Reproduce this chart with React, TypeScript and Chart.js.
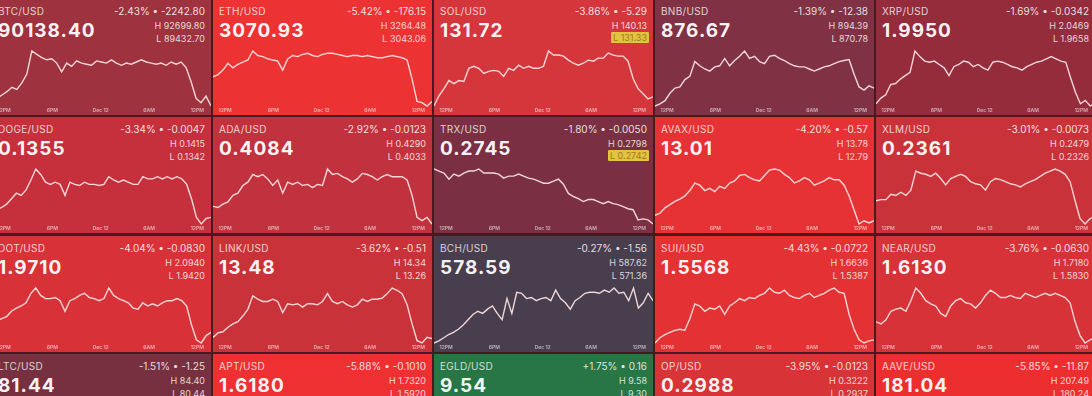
import React, { useEffect, useRef } from 'react';
import { Chart, registerables } from 'chart.js';

Chart.register(...registerables);

// ---- tile texts (row by row, 5 columns) ----
const symbols = [
  'BTC/USD', 'ETH/USD', 'SOL/USD', 'BNB/USD', 'XRP/USD',
  'DOGE/USD', 'ADA/USD', 'TRX/USD', 'AVAX/USD', 'XLM/USD',
  'DOT/USD', 'LINK/USD', 'BCH/USD', 'SUI/USD', 'NEAR/USD',
  'LTC/USD', 'APT/USD', 'EGLD/USD', 'OP/USD', 'AAVE/USD',
];
const prices = [
  '90138.40', '3070.93', '131.72', '876.67', '1.9950',
  '0.1355', '0.4084', '0.2745', '13.01', '0.2361',
  '1.9710', '13.48', '578.59', '1.5568', '1.6130',
  '81.44', '1.6180', '9.54', '0.2988', '181.04',
];
const changePct = [
  '-2.43%', '-5.42%', '-3.86%', '-1.39%', '-1.69%',
  '-3.34%', '-2.92%', '-1.80%', '-4.20%', '-3.01%',
  '-4.04%', '-3.62%', '-0.27%', '-4.43%', '-3.76%',
  '-1.51%', '-5.88%', '+1.75%', '-3.95%', '-5.85%',
];
const changeAbs = [
  '-2242.80', '-176.15', '-5.29', '-12.38', '-0.0342',
  '-0.0047', '-0.0123', '-0.0050', '-0.57', '-0.0073',
  '-0.0830', '-0.51', '-1.56', '-0.0722', '-0.0630',
  '-1.25', '-0.1010', '0.16', '-0.0123', '-11.87',
];
const highs = [
  '92699.80', '3264.48', '140.13', '894.39', '2.0469',
  '0.1415', '0.4290', '0.2798', '13.78', '0.2479',
  '2.0940', '14.34', '587.62', '1.6636', '1.7180',
  '84.40', '1.7320', '9.58', '0.3222', '207.49',
];
const lows = [
  '89432.70', '3043.06', '131.33', '870.78', '1.9658',
  '0.1342', '0.4033', '0.2742', '12.79', '0.2326',
  '1.9420', '13.26', '571.36', '1.5387', '1.5830',
  '80.44', '1.5920', '9.30', '0.2937', '180.24',
];
const lowHighlighted = ['SOL/USD', 'TRX/USD'];
const tileColors = [
  'rgb(158,50,62)', 'rgb(236,50,50)', 'rgb(212,54,60)', 'rgb(128,50,68)', 'rgb(148,44,60)',
  'rgb(198,48,60)', 'rgb(194,50,62)', 'rgb(122,48,66)', 'rgb(230,50,52)', 'rgb(202,50,58)',
  'rgb(216,50,56)', 'rgb(202,50,58)', 'rgb(72,62,78)', 'rgb(228,50,52)', 'rgb(214,50,56)',
  'rgb(118,48,64)', 'rgb(238,48,50)', 'rgb(40,118,70)', 'rgb(216,52,56)', 'rgb(236,46,46)',
];

// ---- sparkline series (intraday, relative level, left to right) ----
const btcLine = [10,12,15,18,22,20,26,34,55,52,49,47,48,44,36,44,41,46,44,43,42,46,45,44,47,44,42,44,43,45,47,45,44,43,44,42,45,43,45,40,27,12,8,14,5];
const ethLine = [34,36,40,46,42,45,47,49,57,53,52,50,49,48,40,50,53,52,54,55,53,52,54,55,55,54,53,52,53,53,52,53,52,51,51,52,53,52,51,49,32,12,11,8,12];
const solLine = [3,13,20,28,25,28,27,40,42,40,35,37,38,37,32,40,38,43,40,42,40,40,42,57,53,53,52,48,45,43,45,48,47,50,50,55,53,52,52,47,30,20,15,10,12];
const bnbLine = [5,7,10,17,22,23,30,33,47,43,40,38,42,43,50,43,48,52,57,50,52,47,45,52,53,50,48,45,43,42,42,40,38,40,42,43,45,47,48,49,35,23,20,24,22];
const xrpLine = [10,15,18,27,28,32,35,38,57,52,48,47,48,45,42,35,43,45,48,47,43,45,42,40,47,48,47,45,43,42,40,43,45,47,48,50,52,50,48,47,33,20,10,13,8,10];
const dogeLine = [18,20,22,25,30,35,33,38,47,57,52,45,43,45,43,33,45,43,42,45,43,43,42,43,50,47,45,47,45,43,43,50,48,48,50,48,50,48,50,48,43,30,13,7,12,13];
const adaLine = [23,22,25,27,33,35,42,45,52,50,52,48,42,47,35,45,43,45,42,43,40,43,42,57,52,53,50,48,45,48,53,52,50,47,50,52,50,50,50,47,33,13,10,13,7];
const trxLine = [57,55,53,47,52,50,53,55,55,57,53,53,53,52,48,50,50,52,50,48,47,45,43,43,45,47,42,33,30,28,25,27,27,25,23,25,23,22,20,18,17,7,8,7,3];
const avaxLine = [15,17,22,25,28,30,33,38,45,43,38,40,37,42,40,45,47,52,53,50,48,47,52,57,58,57,53,50,45,47,50,48,43,45,47,50,48,48,43,33,20,7,10,8,10];
const xlmLine = [27,28,28,33,32,35,32,37,55,53,52,50,53,48,42,48,50,52,50,45,43,42,37,45,48,47,45,43,42,40,43,45,47,50,53,55,57,55,52,45,27,10,5,10,12];
const dotLine = [24,26,28,30,35,38,40,43,52,57,50,47,47,48,45,35,45,47,50,52,48,47,45,47,57,50,47,45,43,38,37,43,40,42,40,43,45,45,47,45,40,22,8,5,12,15];
const linkLine = [13,17,18,22,25,27,32,38,50,47,45,45,47,45,35,43,42,43,40,43,43,42,45,52,45,43,45,42,40,42,47,45,47,47,48,52,57,55,52,42,25,10,8,13,12];
const bchLine = [5,7,10,13,15,18,22,27,32,35,33,37,40,33,27,47,33,53,52,47,48,45,47,48,45,55,47,43,37,45,48,52,53,53,52,55,53,57,52,53,45,57,38,43,52,45];
const suiLine = [5,10,13,15,17,18,17,28,42,40,35,38,37,40,32,40,43,47,45,48,47,50,52,57,53,52,55,50,48,47,50,52,48,50,52,55,57,53,52,32,18,8,5,7,8];
const nearLine = [25,23,27,35,37,38,35,45,57,52,45,42,40,33,30,40,45,47,43,42,38,43,50,55,52,48,48,50,48,47,52,50,48,50,52,50,52,50,48,43,25,12,5,8,10];

const sparkSeries: (number[] | null)[] = [
  btcLine, ethLine, solLine, bnbLine, xrpLine,
  dogeLine, adaLine, trxLine, avaxLine, xlmLine,
  dotLine, linkLine, bchLine, suiLine, nearLine,
  null, null, null, null, null,
];

// time axis (hours from 12PM of the previous day)
const HOUR_START = -1.5;
const HOUR_END = 25.7;
const tickHours = [0, 6, 12, 18, 24];
const tickLabels = ['12PM', '6PM', 'Dec 12', '6AM', '12PM'];

const FONT = 'Inter, "Noto Sans", sans-serif';
const TILE_W = 219;
const TILE_H = 116;

function Spark({ values }: { values: number[] }) {
  const ref = useRef<HTMLCanvasElement>(null);
  useEffect(() => {
    const n = values.length;
    const span = HOUR_END - HOUR_START;
    const data = values.map((v, i) => ({ x: HOUR_START + (i * span) / (n - 1), y: v }));
    const chart = new Chart(ref.current as HTMLCanvasElement, {
      type: 'line',
      data: {
        datasets: [
          {
            data,
            borderColor: 'rgba(255,232,232,0.9)',
            borderWidth: 1.4,
            pointRadius: 0,
            tension: 0,
            clip: false as any,
          },
        ],
      },
      options: {
        animation: false,
        responsive: false,
        maintainAspectRatio: false,
        events: [],
        layout: { padding: { top: 6, bottom: 1, left: 0, right: 0 } },
        plugins: { legend: { display: false }, tooltip: { enabled: false } },
        scales: {
          x: {
            type: 'linear',
            min: HOUR_START,
            max: HOUR_END,
            grid: { display: false, drawTicks: false },
            border: { display: false },
            afterBuildTicks: (s: any) => {
              s.ticks = tickHours.map((v) => ({ value: v }));
            },
            ticks: {
              autoSkip: false,
              maxRotation: 0,
              padding: 1,
              color: 'rgba(255,255,255,0.55)',
              font: { size: 5, family: FONT, weight: 'bold' },
              callback: (v: any) => {
                const k = tickHours.indexOf(Number(v));
                return k >= 0 ? tickLabels[k] : '';
              },
            },
          },
          y: { display: false, min: Math.min(...values), max: Math.max(...values) },
        },
      },
    });
    return () => chart.destroy();
  }, [values]);
  return (
    <canvas
      ref={ref}
      width={TILE_W}
      height={70}
      style={{ position: 'absolute', left: 0, top: 46, width: TILE_W, height: 70 }}
    />
  );
}

function Tile({ i }: { i: number }) {
  const col = i % 5;
  const row = Math.floor(i / 5);
  const left = -8 + col * 221;
  const top = Math.round(-1 + row * 118.3);
  const series = sparkSeries[i];
  const hl = lowHighlighted.includes(symbols[i]);
  return (
    <div
      style={{
        position: 'absolute',
        left,
        top,
        width: TILE_W,
        height: TILE_H,
        background: tileColors[i],
        overflow: 'hidden',
        fontFamily: FONT,
      }}
    >
      <div
        style={{
          position: 'absolute', left: 6, top: 6, fontSize: 10, lineHeight: '12px',
          color: 'rgba(255,255,255,0.78)', letterSpacing: 0.3,
        }}
      >
        {symbols[i]}
      </div>
      <div
        style={{
          position: 'absolute', left: 6, top: 20, fontSize: 19, lineHeight: '24px',
          fontWeight: 700, color: 'rgba(255,255,255,0.96)', letterSpacing: 1,
        }}
      >
        {prices[i]}
      </div>
      <div
        style={{
          position: 'absolute', right: 6, top: 6, fontSize: 10, lineHeight: '12px',
          color: 'rgba(255,255,255,0.85)', whiteSpace: 'nowrap',
        }}
      >
        {changePct[i]} • {changeAbs[i]}
      </div>
      <div
        style={{
          position: 'absolute', right: 6, top: 21, fontSize: 9, lineHeight: '11px',
          color: 'rgba(255,255,255,0.8)', whiteSpace: 'nowrap',
        }}
      >
        H {highs[i]}
      </div>
      <div
        style={{
          position: 'absolute', right: hl ? 4 : 6, top: hl ? 33 : 34, fontSize: 9,
          lineHeight: '11px', whiteSpace: 'nowrap',
          color: hl ? 'rgb(168,118,40)' : 'rgba(255,255,255,0.8)',
          background: hl ? 'rgb(226,196,62)' : 'transparent',
          padding: hl ? '0 2px' : 0,
          borderRadius: hl ? 1 : 0,
        }}
      >
        L {lows[i]}
      </div>
      {series && <Spark values={series} />}
    </div>
  );
}

export default function App() {
  return (
    <div
      style={{
        position: 'fixed',
        left: 0,
        top: 0,
        width: 1092,
        height: 396,
        overflow: 'hidden',
        background: 'rgb(72,26,32)',
      }}
    >
      {symbols.map((_, i) => (
        <Tile key={i} i={i} />
      ))}
    </div>
  );
}
